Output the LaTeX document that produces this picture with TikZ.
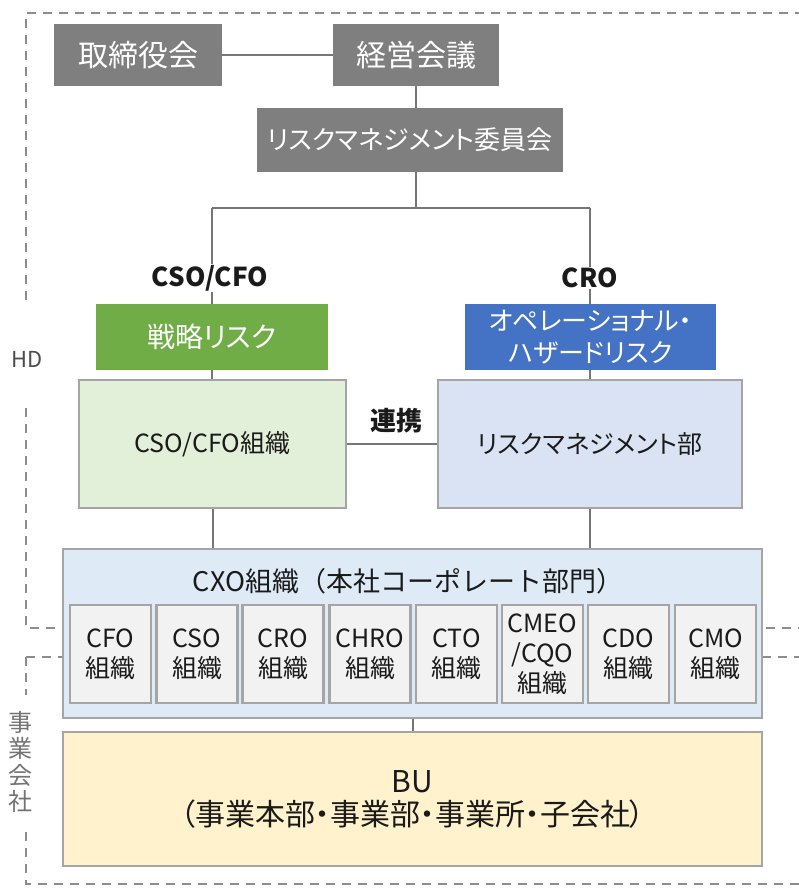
\documentclass[tikz,border=0pt]{standalone}
\usepackage{fontspec}
\setmainfont{Noto Sans CJK JP}
\newfontfamily\pfont{Noto Sans CJK JP}[RawFeature=+palt]
\definecolor{boxgray}{HTML}{7F7F7F}
\definecolor{riskgreen}{HTML}{70AD47}
\definecolor{riskblue}{HTML}{4472C4}
\definecolor{lgreen}{HTML}{E2F0D9}
\definecolor{lblue}{HTML}{DAE3F3}
\definecolor{cxoblue}{HTML}{DEEBF7}
\definecolor{subgray}{HTML}{F2F2F2}
\definecolor{buyellow}{HTML}{FFF2CC}
\definecolor{bord}{HTML}{A5A5A5}
\definecolor{linec}{HTML}{767676}
\definecolor{dashc}{HTML}{8C8C8C}
\definecolor{txt}{HTML}{1A1A1A}
\newcommand\fz[2]{\fontsize{#1}{#2}\selectfont}
\begin{document}
\begin{tikzpicture}[x=1pt,y=-1pt,
  box/.style={rectangle, inner sep=0pt, align=center, text=txt},
  gbox/.style={box, fill=boxgray, text=white},
  org/.style={box, draw=bord, line width=2.2pt},
  subbox/.style={org, fill=subgray, minimum width=81pt, minimum height=98pt, font=\fz{25}{30}},
  conn/.style={draw=linec, line width=2pt},
  region/.style={draw=dashc, line width=2pt, dash pattern=on 9pt off 7pt},
  lbl/.style={inner sep=1pt, text=txt, font=\bfseries\fz{26}{30}}]
\useasboundingbox (0,0) rectangle (798,888);
% dashed regions
\draw[region] (26,300) -- (26,13) -- (805,13);
\draw[region] (26,408) -- (26,628) -- (805,628);
\draw[region] (26,657) -- (805,657);
\draw[region] (26,657) -- (26,695);
\draw[region] (26,832) -- (26,884) -- (805,884);
\node[text=black!70, font=\fz{22}{26}] (hd) at (27,359) {HD};
\node[text=black!55, align=center, font=\fz{24}{26.5}] (jg) at (21,762) {事\\業\\会\\社};
% top
\node[gbox, minimum width=168pt, minimum height=62pt, font=\fz{30}{36}] (tori) at (138,55) {取締役会};
\node[gbox, minimum width=166pt, minimum height=62pt, font=\fz{30}{36}] (keiei) at (416,55) {経営会議};
\node[gbox, minimum width=306pt, minimum height=64pt, font=\pfont\fz{26}{34}] (rmc) at (410,140) {リスクマネジメント委員会};
\coordinate (bm) at (416,208);
\coordinate (bl) at (212,208);
\coordinate (br) at (590,208);
\node[lbl] (cso) at (210,278) {CSO/CFO};
\node[lbl] (cro) at (590,278) {CRO};
\node[box, fill=riskgreen, text=white, minimum width=232pt, minimum height=66pt, font=\pfont\fz{28}{34}] (sen) at (212,337) {戦略リスク};
\node[box, fill=riskblue, text=white, minimum width=251pt, minimum height=66pt, font=\pfont\fz{26}{32}] (ope) at (590.5,337) {オペレーショナル・\\ハザードリスク};
\node[org, fill=lgreen, minimum width=267pt, minimum height=128pt, font=\fz{25}{30}] (cfoorg) at (212.5,444) {CSO/CFO組織};
\node[org, fill=lblue, minimum width=304pt, minimum height=128pt, font=\pfont\fz{25}{30}] (rmd) at (590,444) {リスクマネジメント部};
\node[lbl, font=\bfseries\fz{26}{30}] (renkei) at (396,421) {連携};
% CXO
\node[org, fill=cxoblue, minimum width=699pt, minimum height=169pt] (cxo) at (412.5,633.5) {};
\node[box, font=\fz{27}{32}] (cxot) at (408,581) {CXO組織（本社コーポレート部門）};
\node[subbox] (s1) at (110.5,654) {CFO\\組織};
\node[subbox] (s2) at (197,654) {CSO\\組織};
\node[subbox] (s3) at (283,654) {CRO\\組織};
\node[subbox] (s4) at (370,654) {CHRO\\組織};
\node[subbox] (s5) at (456.5,654) {CTO\\組織};
\node[subbox] (s6) at (542.5,654) {CMEO\\/CQO\\組織};
\node[subbox] (s7) at (628.5,654) {CDO\\組織};
\node[subbox] (s8) at (715.5,654) {CMO\\組織};
\node[org, fill=buyellow, minimum width=699pt, minimum height=134pt, font=\pfont\fz{30}{33}] (bu) at (412.5,799) {BU\\（事業本部・事業部・事業所・子会社）};
% connectors
\draw[conn] (tori.east) -- (keiei.west);
\draw[conn] (keiei.south) -- (keiei.south |- rmc.north);
\draw[conn] (keiei.south |- rmc.south) -- (bm);
\draw[conn] (bl) -- (br);
\draw[conn] (bl) -- (bl |- cso.north);
\draw[conn] (br) -- (cro.north);
\draw[conn] (bl |- cso.south) -- (sen.north);
\draw[conn] (cro.south) -- (cro.south |- ope.north);
\draw[conn] (sen.south) -- (sen.south |- cfoorg.north);
\draw[conn] (cro.south |- ope.south) -- (cro.south |- rmd.north);
\draw[conn] (cfoorg.east) -- (rmd.west);
\draw[conn] (cfoorg.south) -- (cfoorg.south |- cxo.north);
\draw[conn] (cro.south |- rmd.south) -- (cro.south |- cxo.north);
\draw[conn] (cxo.south) -- (bu.north);
\end{tikzpicture}
\end{document}
